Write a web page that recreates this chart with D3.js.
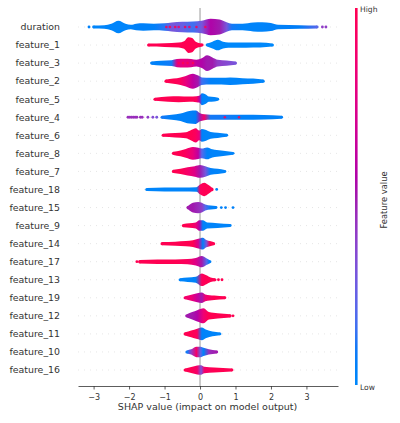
<!DOCTYPE html>
<html>
<head>
<meta charset="utf-8">
<script src="https://cdn.jsdelivr.net/npm/d3@7"></script>
<style>
  html, body { margin: 0; padding: 0; background: #fff; }
  svg { display: block; font-family: "DejaVu Sans", sans-serif; }
</style>
</head>
<body>
<svg id="chart" width="400" height="423"></svg>
<script>
// ---------------- DATA ----------------
const features = ["duration","feature_1","feature_3","feature_2","feature_5","feature_4",
  "feature_6","feature_8","feature_7","feature_18","feature_15","feature_9","feature_14",
  "feature_17","feature_13","feature_19","feature_12","feature_11","feature_10","feature_16"];

const xTicks = [-3, -2, -1, 0, 1, 2, 3];
const xDomain = [-3.44, 3.89];

// each knot: [SHAP value, relative point density (0-1), mean feature value (0 low .. 1 high)]
// a null density marks a gap in the swarm
const prof_duration = [[-3.0,0.05,0.02],[-2.7,0.1,0.02],[-2.5,0.3,0.02],[-2.3,0.7,0.02],[-2.1,0.3,0.02],
  [-1.95,0.15,0.03],[-1.8,0.3,0.05],[-1.6,0.35,0.05],[-1.3,0.3,0.05],[-1.0,0.35,0.12],[-0.8,0.45,0.3],
  [-0.5,0.55,0.25],[-0.2,0.6,0.15],[0.05,0.7,0.3],[0.3,0.95,0.55],[0.55,0.85,0.5],[0.75,0.5,0.3],
  [0.9,0.3,0.1],[1.2,0.3,0.03],[1.5,0.45,0.03],[1.75,0.5,0.03],[2.0,0.4,0.05],[2.2,0.15,0.05],
  [2.8,0.1,0.08],[3.3,0.05,0.2]];
const prof_feature_1 = [[-1.45,0.06,1],[-1.0,0.1,1],[-0.6,0.18,1],[-0.45,0.35,1],[-0.33,0.9,1],
  [-0.22,0.8,1],[-0.12,0.3,1],[0.0,0.1,1],[0.06,0.05,1],[0.12,null,0.5],[0.2,0.05,0],[0.35,0.3,0],
  [0.5,0.55,0],[0.65,0.3,0],[0.8,0.2,0],[1.3,0.2,0],[1.7,0.18,0],[2.04,0.06,0]];
const prof_feature_3 = [[-1.36,0.08,0.05],[-1.1,0.18,0.05],[-0.8,0.25,0.1],[-0.65,0.4,0.75],
  [-0.45,0.45,0.8],[-0.25,0.4,0.75],[-0.1,0.3,0.6],[0.05,0.5,0.55],[0.2,0.9,0.5],[0.35,0.6,0.5],
  [0.5,0.3,0.4],[0.75,0.2,0.35],[1.0,0.06,0.3]];
const prof_feature_2 = [[-0.96,0.06,1],[-0.75,0.2,1],[-0.55,0.35,0.95],[-0.4,0.55,0.8],[-0.2,0.85,0.6],
  [-0.05,0.6,0.5],[0.05,0.35,0.15],[0.3,0.3,0.05],[0.6,0.3,0.03],[0.85,0.35,0.03],[1.2,0.25,0.03],
  [1.5,0.2,0.03],[1.78,0.06,0.03]];
const prof_feature_5 = [[-1.27,0.06,1],[-0.9,0.2,1],[-0.6,0.25,1],[-0.3,0.2,1],[-0.1,0.25,0.95],
  [-0.02,0.3,0.6],[0.05,0.65,0.05],[0.15,0.5,0.03],[0.25,0.2,0.03],[0.4,0.15,0.03],[0.5,0.05,0.03]];
const prof_feature_4 = [[-1.07,0.06,0.1],[-0.8,0.2,0.05],[-0.55,0.35,0.05],[-0.3,0.7,0.05],
  [-0.12,0.75,0.08],[0.0,0.4,0.5],[0.12,0.25,0.9],[0.3,0.2,0.1],[0.7,0.2,0.1],[1.2,0.18,0.05],
  [1.8,0.15,0.05],[2.3,0.05,0.05]];
const prof_feature_6 = [[-1.04,0.06,1],[-0.7,0.15,1],[-0.4,0.25,1],[-0.25,0.55,1],[-0.12,0.8,0.95],
  [-0.02,0.5,0.8],[0.05,0.7,0.05],[0.15,0.6,0.03],[0.3,0.3,0.03],[0.5,0.2,0.03],[0.75,0.05,0.03]];
const prof_feature_8 = [[-0.75,0.06,1],[-0.55,0.25,1],[-0.4,0.45,0.95],[-0.2,0.7,0.8],[-0.05,0.6,0.6],
  [0.05,0.5,0.2],[0.2,0.65,0.05],[0.35,0.4,0.03],[0.6,0.25,0.03],[0.93,0.05,0.03]];
const prof_feature_7 = [[-0.75,0.06,1],[-0.55,0.2,1],[-0.35,0.4,0.9],[-0.15,0.55,0.75],[0.0,0.7,0.5],
  [0.15,0.55,0.3],[0.3,0.3,0.05],[0.5,0.2,0.03],[0.7,0.05,0.03]];
const prof_feature_18 = [[-1.5,0.06,0.02],[-1.0,0.12,0.02],[-0.5,0.12,0.02],[-0.1,0.15,0.05],
  [0.0,0.5,0.95],[0.12,0.75,1],[0.25,0.4,1],[0.33,0.1,1]];
const prof_feature_15 = [[-0.33,0.1,0.5],[-0.2,0.5,0.5],[-0.05,0.6,0.45],[0.05,0.5,0.4],
  [0.15,0.25,0.2],[0.3,0.12,0.05],[0.45,0.05,0.05]];
const prof_feature_9 = [[-0.47,0.06,1],[-0.3,0.15,1],[-0.12,0.25,0.85],[-0.02,0.55,0.55],
  [0.08,0.55,0.05],[0.2,0.25,0.03],[0.5,0.18,0.03],[0.85,0.05,0.03]];
const prof_feature_14 = [[-1.07,0.06,1],[-0.7,0.12,1],[-0.4,0.2,1],[-0.2,0.3,1],[-0.05,0.5,0.7],
  [0.08,0.65,0.05],[0.18,0.35,0.3],[0.28,0.2,1],[0.38,0.08,1]];
const prof_feature_17 = [[-1.7,0.08,1],[-1.2,0.15,1],[-0.7,0.15,1],[-0.35,0.2,0.95],[-0.12,0.35,0.75],
  [0.05,0.6,0.5],[0.18,0.3,0.2],[0.28,0.05,0.05]];
const prof_feature_13 = [[-0.56,0.06,0.02],[-0.35,0.15,0.02],[-0.12,0.25,0.05],[0.05,0.7,0.95],
  [0.18,0.45,1],[0.3,0.15,1],[0.42,0.06,1]];
const prof_feature_19 = [[-0.42,0.06,0.9],[-0.25,0.25,0.85],[-0.08,0.45,0.65],[0.05,0.55,0.5],
  [0.15,0.3,0.85],[0.4,0.15,1],[0.7,0.05,1]];
const prof_feature_12 = [[-0.37,0.08,0.5],[-0.22,0.35,0.5],[-0.08,0.6,0.55],[0.1,0.85,0.85],
  [0.25,0.35,1],[0.5,0.2,1],[0.85,0.06,1]];
const prof_feature_11 = [[-0.42,0.06,1],[-0.25,0.3,1],[-0.08,0.55,0.95],[0.05,0.7,0.05],
  [0.18,0.4,0.03],[0.35,0.18,0.03],[0.56,0.05,0.03]];
const prof_feature_10 = [[-0.37,0.06,0.1],[-0.25,0.2,0.4],[-0.1,0.55,0.9],[0.02,0.55,0.2],
  [0.1,0.4,0.05],[0.25,0.2,0.45],[0.47,0.05,0.5]];
const prof_feature_16 = [[-0.42,0.06,1],[-0.25,0.25,1],[-0.08,0.45,0.9],[0.03,0.5,0.3],
  [0.12,0.3,0.9],[0.4,0.2,1],[0.9,0.05,1]];

// isolated points: [feature, SHAP value, feature value]
const outliers = [
  ["duration",-3.13,0.05],["duration",3.45,0.4],["duration",3.55,0.4],
  ["feature_4",-2.03,0.45],["feature_4",-1.98,0.45],["feature_4",-1.93,0.45],["feature_4",-1.88,0.45],
  ["feature_4",-1.83,0.45],["feature_4",-1.78,0.45],["feature_4",-1.68,0.45],["feature_4",-1.63,0.45],
  ["feature_4",-1.47,0.4],["feature_4",-1.33,0.35],["feature_4",-1.22,0.3],
  ["feature_18",0.47,0.05],
  ["feature_15",0.6,0.05],["feature_15",0.72,0.05],["feature_15",0.93,0.05],
  ["feature_17",-1.78,1],
  ["feature_13",0.52,1],["feature_13",0.62,1],
  ["feature_12",0.93,1]
];

// scattered high-value points inside mostly-blue swarms: [feature, SHAP value, feature value]
const speckles = [
  ["duration",-0.95,1],["duration",-0.85,1],["duration",-0.7,1],["duration",-0.6,0.9],
  ["duration",-0.42,1],["duration",-0.3,0.9],["duration",-0.1,1],["duration",0.15,1],
  ["feature_3",-0.6,1],["feature_3",-0.48,1],["feature_3",-0.35,1],["feature_3",-0.2,1],
  ["feature_4",0.7,1],["feature_4",1.1,1]
];

const profiles = {
  duration: prof_duration, feature_1: prof_feature_1, feature_3: prof_feature_3, feature_2: prof_feature_2,
  feature_5: prof_feature_5, feature_4: prof_feature_4, feature_6: prof_feature_6, feature_8: prof_feature_8,
  feature_7: prof_feature_7, feature_18: prof_feature_18, feature_15: prof_feature_15, feature_9: prof_feature_9,
  feature_14: prof_feature_14, feature_17: prof_feature_17, feature_13: prof_feature_13, feature_19: prof_feature_19,
  feature_12: prof_feature_12, feature_11: prof_feature_11, feature_10: prof_feature_10, feature_16: prof_feature_16
};

// ---------------- COLOR MAP (shap red_blue, LCh interpolation) ----------------
function shapColor(t) {
  const L = t < 0.5 ? 54 + (40 - 54) * (t / 0.5) : 40 + (54 - 40) * ((t - 0.5) / 0.5);
  const C = 70 + 20 * t;
  const h0 = 4.6588, h1 = 0.35470565 + 2 * Math.PI;
  const H = (h0 + (h1 - h0) * t) * 180 / Math.PI;
  return d3.hcl(H, C, L).formatHex();
}

// ---------------- LAYOUT ----------------
const svg = d3.select("#chart");
const plotLeft = 78, plotRight = 338, plotTop = 8, axisY = 386;

const x = d3.scaleLinear().domain(xDomain).range([plotLeft, plotRight]);
const y = d3.scalePoint().domain(features).range([27, 370]);
const thick = d3.scaleLinear().domain([0, 1]).range([1.1, 8.6]);

const defs = svg.append("defs");

// dashed row guide lines
svg.append("g").selectAll("line").data(features).join("line")
  .attr("x1", plotLeft).attr("x2", plotRight)
  .attr("y1", d => y(d)).attr("y2", d => y(d))
  .attr("stroke", "#cccccc").attr("stroke-width", 0.5).attr("stroke-dasharray", "1,5");

// zero line
svg.append("line")
  .attr("x1", x(0)).attr("x2", x(0)).attr("y1", plotTop).attr("y2", axisY)
  .attr("stroke", "#999999").attr("stroke-width", 1);

// swarms as density ribbons coloured by feature value
const rows = svg.append("g");
features.forEach((f, i) => {
  const prof = profiles[f];
  const valid = prof.filter(k => k[1] !== null);
  const xmin = x(valid[0][0]), xmax = x(valid[valid.length - 1][0]);
  const gid = "grad" + i;
  const g = defs.append("linearGradient").attr("id", gid)
    .attr("gradientUnits", "userSpaceOnUse")
    .attr("x1", xmin).attr("x2", xmax).attr("y1", 0).attr("y2", 0);
  valid.forEach(k => {
    g.append("stop")
      .attr("offset", ((x(k[0]) - xmin) / (xmax - xmin)).toFixed(4))
      .attr("stop-color", shapColor(k[2]));
  });
  const cy = y(f);
  const area = d3.area()
    .defined(k => k[1] !== null)
    .x(k => x(k[0]))
    .y0(k => cy - thick(k[1]))
    .y1(k => cy + thick(k[1]))
    .curve(d3.curveMonotoneX);
  rows.append("path").attr("d", area(prof)).attr("fill", `url(#${gid})`);
  // rounded ends for each ribbon segment
  const segEnds = [];
  prof.forEach((k, j) => {
    if (k[1] === null) return;
    const prev = prof[j - 1], next = prof[j + 1];
    if (!prev || prev[1] === null || !next || next[1] === null) segEnds.push(k);
  });
  rows.selectAll(null).data(segEnds).join("circle")
    .attr("cx", k => x(k[0])).attr("cy", cy).attr("r", k => thick(k[1]))
    .attr("fill", k => shapColor(k[2]));
});

// scattered points inside swarms
svg.append("g").selectAll("circle").data(speckles).join("circle")
  .attr("cx", d => x(d[1])).attr("cy", d => y(d[0])).attr("r", 1.3)
  .attr("fill", d => shapColor(d[2])).attr("opacity", 0.85);

// isolated dots
svg.append("g").selectAll("circle").data(outliers).join("circle")
  .attr("cx", d => x(d[1])).attr("cy", d => y(d[0])).attr("r", 1.4)
  .attr("fill", d => shapColor(d[2]));

// feature labels
svg.append("g").selectAll("text").data(features).join("text")
  .attr("x", 60).attr("y", d => y(d)).attr("dy", "0.35em")
  .attr("text-anchor", "end").attr("font-size", "9.4px").attr("fill", "#333")
  .text(d => d);

// x axis
const axis = d3.axisBottom(x).tickValues(xTicks).tickSize(3.5).tickSizeOuter(0)
  .tickFormat(d => d < 0 ? "\u2212" + Math.abs(d) : String(d));
const ax = svg.append("g").attr("transform", `translate(0,${axisY})`).call(axis);
ax.select(".domain").attr("stroke", "#333").attr("stroke-width", 0.8);
ax.selectAll(".tick line").attr("stroke", "#333").attr("stroke-width", 0.8);
ax.selectAll(".tick text").attr("font-size", "8px").attr("fill", "#333")
  .attr("font-family", "DejaVu Sans, sans-serif").attr("dy", "0.9em");

svg.append("text").attr("x", x(0) + 7.5).attr("y", 410)
  .attr("text-anchor", "middle").attr("font-size", "9.5px").attr("fill", "#333")
  .text("SHAP value (impact on model output)");

// colour bar
const cbX = 355, cbTop = 8, cbBottom = 385;
const cg = defs.append("linearGradient").attr("id", "cbar")
  .attr("x1", 0).attr("x2", 0).attr("y1", 1).attr("y2", 0);
d3.range(0, 1.0001, 0.05).forEach(t => {
  cg.append("stop").attr("offset", t.toFixed(2)).attr("stop-color", shapColor(t));
});
svg.append("rect").attr("x", cbX).attr("y", cbTop).attr("width", 2.6).attr("height", cbBottom - cbTop)
  .attr("fill", "url(#cbar)");
svg.append("text").attr("x", 360).attr("y", 12).attr("font-size", "7.6px").attr("fill", "#333").text("High");
svg.append("text").attr("x", 360).attr("y", 390).attr("font-size", "7.6px").attr("fill", "#333").text("Low");
svg.append("text").attr("transform", "translate(387,200) rotate(-90)")
  .attr("text-anchor", "middle").attr("font-size", "8.4px").attr("fill", "#333").text("Feature value");
</script>
</body>
</html>
